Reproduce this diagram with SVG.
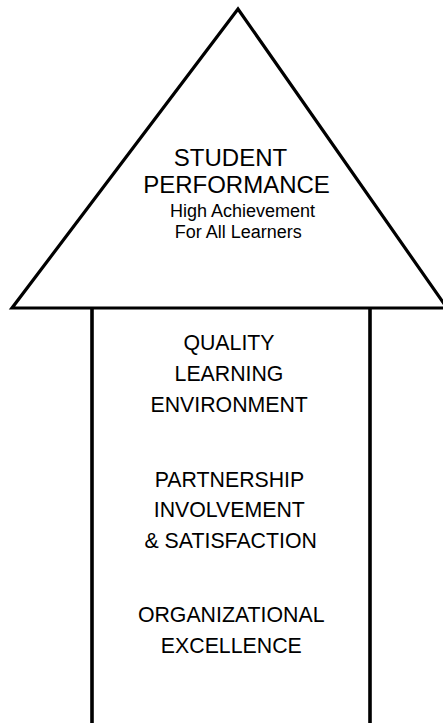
<svg xmlns="http://www.w3.org/2000/svg" width="443" height="723" viewBox="0 0 443 723">
<style>
.shape{fill:#fff;stroke:#000;stroke-width:3.2;stroke-linejoin:miter}
.side{fill:none;stroke:#000;stroke-width:3.6}
text{font-family:"Liberation Sans",Arial,sans-serif;fill:#000;text-anchor:middle}
.t1{font-size:24px}
.t2{font-size:18px}
.t3{font-size:21.3px}
</style>
<rect width="443" height="723" fill="#fff"/>
<g id="shaft">
<path class="side" d="M92 308 V730 M370 308 V730"/>
<text class="t3" x="229" y="350">QUALITY</text>
<text class="t3" x="229" y="381">LEARNING</text>
<text class="t3" x="229.2" y="411.7">ENVIRONMENT</text>
<text class="t3" x="229.5" y="486.7">PARTNERSHIP</text>
<text class="t3" x="229.3" y="516.7">INVOLVEMENT</text>
<text class="t3" x="230.7" y="548.3">&amp; SATISFACTION</text>
<text class="t3" x="231.2" y="621.7">ORGANIZATIONAL</text>
<text class="t3" x="231.3" y="653.3">EXCELLENCE</text>
</g>
<g id="apex">
<polygon class="shape" points="238,9 12,308 447,308"/>
<text class="t1" x="230.5" y="166">STUDENT</text>
<text class="t1" x="236.5" y="193">PERFORMANCE</text>
<text class="t2" x="242.5" y="216.7">High Achievement</text>
<text class="t2" x="238.3" y="238.3">For All Learners</text>
</g>
<g id="connectors"/>
</svg>
